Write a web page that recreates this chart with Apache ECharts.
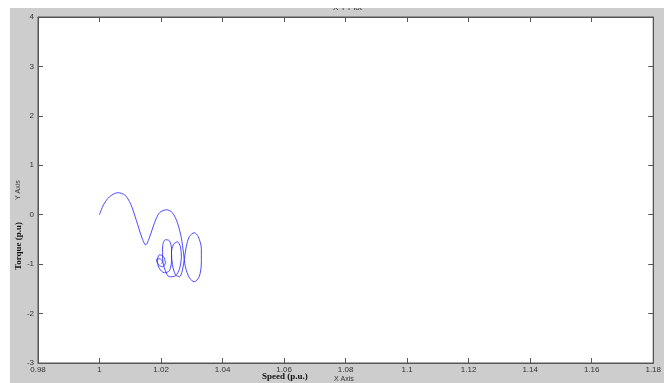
<!DOCTYPE html>
<html>
<head>
<meta charset="utf-8">
<script src="https://cdn.jsdelivr.net/npm/echarts@6/dist/echarts.min.js"></script>
<style>html,body{margin:0;padding:0;background:#fff}#c{width:664px;height:383px}</style>
</head>
<body>
<div id="c"></div>
<script>
// Rotor speed vs electromagnetic torque trajectory (per unit)
const speed = [
  1.0000, 1.0013, 1.0032, 1.0059, 1.0082, 1.0101, 1.0120, 1.0137, 1.0150,
  1.0163, 1.0179, 1.0195, 1.0218, 1.0237, 1.0253, 1.0266, 1.0273,
  1.0279, 1.0292, 1.0308, 1.0324, 1.0331, 1.0331, 1.0321, 1.0308, 1.0292,
  1.0282, 1.0276, 1.0269, 1.0260, 1.0247, 1.0237, 1.0234, 1.0240, 1.0253,
  1.0263, 1.0266, 1.0260, 1.0247, 1.0227, 1.0214, 1.0205, 1.0205, 1.0214,
  1.0227, 1.0234, 1.0234, 1.0227, 1.0211, 1.0195, 1.0188, 1.0195, 1.0208,
  1.0214, 1.0205, 1.0192, 1.0185, 1.0195, 1.0205, 1.0201
];
const torque = [
  0.000, 0.200, 0.360, 0.445, 0.400, 0.220, -0.120, -0.450, -0.610,
  -0.450, -0.160, 0.040, 0.100, 0.040, -0.160, -0.470, -0.770,
  -1.050, -1.275, -1.356, -1.255, -0.972, -0.688, -0.445, -0.364, -0.445,
  -0.648, -0.891, -1.134, -1.255, -1.215, -1.012, -0.769, -0.607, -0.547,
  -0.648, -0.850, -1.093, -1.235, -1.255, -1.134, -0.891, -0.648, -0.506,
  -0.526, -0.688, -0.931, -1.134, -1.174, -1.093, -0.931, -0.810, -0.850,
  -0.972, -1.053, -1.012, -0.911, -0.891, -0.951, -0.992
];
const xTicks = { min: 0.98, max: 1.18, step: 0.02 };
const yTicks = { min: -3, max: 4, step: 1 };

const points = speed.map((s, i) => [s, torque[i]]);
const fmtX = v => String(parseFloat(v.toFixed(2)));

const chart = echarts.init(document.getElementById('c'), null, { renderer: 'canvas' });
const tickLbl = { color: '#333', fontSize: 8, fontFamily: 'Arial, Liberation Sans, sans-serif' };
const axisLineStyle = { color: '#555', width: 1 };

function frameAxis(extra) {
  return Object.assign({
    type: 'value',
    axisLine: { show: true, onZero: false, lineStyle: axisLineStyle },
    axisTick: { show: true, inside: true, length: 5, lineStyle: axisLineStyle },
    splitLine: { show: false }
  }, extra);
}

chart.setOption({
  animation: false,
  backgroundColor: '#ffffff',
  grid: {
    left: 38, right: 8, top: 17, bottom: 20,
    show: true, backgroundColor: '#ffffff', borderColor: '#555', borderWidth: 1
  },
  xAxis: [
    frameAxis({ min: xTicks.min, max: xTicks.max, interval: xTicks.step, position: 'bottom',
      axisLabel: Object.assign({ margin: 3, formatter: fmtX }, tickLbl) }),
    frameAxis({ min: xTicks.min, max: xTicks.max, interval: xTicks.step, position: 'top',
      axisLabel: { show: false } })
  ],
  yAxis: [
    frameAxis({ min: yTicks.min, max: yTicks.max, interval: yTicks.step, position: 'left',
      axisLabel: Object.assign({ margin: 4 }, tickLbl) }),
    frameAxis({ min: yTicks.min, max: yTicks.max, interval: yTicks.step, position: 'right',
      axisLabel: { show: false } })
  ],
  series: [{
    type: 'line',
    data: points,
    xAxisIndex: 0, yAxisIndex: 0,
    showSymbol: false,
    smooth: 0.3,
    lineStyle: { color: '#2a2aff', width: 1, opacity: 0.85 },
    silent: true
  }],
  graphic: [
    { type: 'rect', z: -10, shape: { x: 10, y: 8, width: 654, height: 375 },
      style: { fill: '#cdcdcd' } },
    { type: 'text', z: -5, left: 333, top: 4,
      style: { text: 'X Y Plot', font: '8px Arial, sans-serif', fill: '#333' } },
    { type: 'rect', z: -4, shape: { x: 0, y: 0, width: 664, height: 8 },
      style: { fill: '#ffffff' } },
    { type: 'text', left: 262, top: 372,
      style: { text: 'Speed (p.u.)', font: 'bold 9px "Liberation Serif", "DejaVu Serif", serif', fill: '#111' } },
    { type: 'text', left: 334, top: 376,
      style: { text: 'X Axis', font: '7px Arial, sans-serif', fill: '#333' } },
    { type: 'text', x: 14, y: 270, rotation: Math.PI / 2,
      style: { text: 'Torque (p.u)', font: 'bold 9px "Liberation Serif", "DejaVu Serif", serif', fill: '#111' } },
    { type: 'text', x: 15, y: 200, rotation: Math.PI / 2,
      style: { text: 'Y Axis', font: '7px Arial, sans-serif', fill: '#333' } }
  ]
});
</script>
</body>
</html>
